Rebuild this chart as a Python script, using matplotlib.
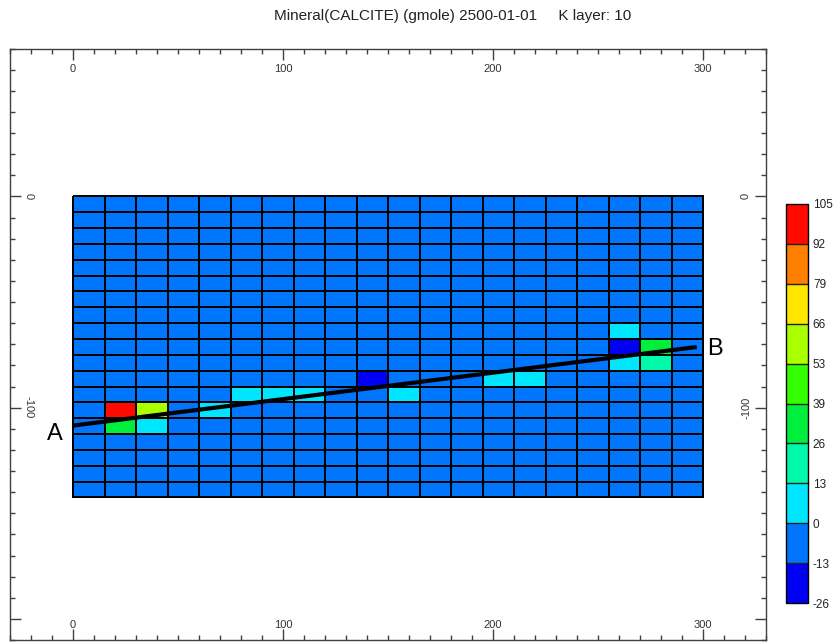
import matplotlib
matplotlib.use("Agg")
import matplotlib.pyplot as plt
import matplotlib.transforms as mtrans
import numpy as np
from matplotlib.colors import ListedColormap, BoundaryNorm
from matplotlib.cm import ScalarMappable
from matplotlib.ticker import MultipleLocator

plt.rcParams["font.family"] = ["Liberation Sans", "DejaVu Sans"]

# ---- model grid (K layer 10) ----
nx, ny = 20, 19          # columns, rows
dx, dy = 15.0, 7.5       # cell size
background = -6.0        # calcite change in most cells

# cells that differ from the background: column, row (from top), value
cell_cols = [1, 1, 2, 2, 4, 5, 6, 7, 9, 10, 13, 14, 17, 17, 17, 18, 18]
cell_rows = [13, 14, 13, 14, 13, 12, 12, 12, 11, 12, 11, 11, 8, 9, 10, 9, 10]
cell_vals = [100, 33, 60, 6, 6, 6, 6, 6, -20, 6, 6, 6, 6, -20, 6, 33, 20]

# colour classes
levels = [-26, -13, 0, 13, 26, 39, 53, 66, 79, 92, 105]
level_labels = ["-26", "-13", "0", "13", "26", "39", "53", "66", "79", "92", "105"]
class_colors = ["#0000F2", "#0076FF", "#00E6FF", "#00FAAA", "#00EE3C",
                "#33FF00", "#AAFF00", "#FFE600", "#FF7F00", "#FF0A00"]

# cross-section A-B
sec_x = [0.0, 297.0]
sec_y = [-108.5, -71.3]
sec_names = ["A", "B"]

x_major = [0, 100, 200, 300]
y_major = [0, -100]

title = "Mineral(CALCITE) (gmole) 2500-01-01     K layer: 10"

# ---- figure ----
W, H = 833, 644
fig = plt.figure(figsize=(W / 100, H / 100), dpi=100)
ax = fig.add_axes([10 / W, 1 - 640 / H, 756 / W, 591.5 / H])
ax.set_xlim(-30, 330)
ax.set_ylim(-210, 70)

cmap = ListedColormap(class_colors)
norm = BoundaryNorm(levels, cmap.N)

xe = np.arange(nx + 1) * dx
ye = -np.arange(ny + 1) * dy
grid = np.full((ny, nx), background)
for c, r, v in zip(cell_cols, cell_rows, cell_vals):
    grid[r, c] = v
ax.pcolormesh(xe, ye, grid, cmap=cmap, norm=norm,
              edgecolors="black", linewidth=1.1)

ax.plot(sec_x, sec_y, color="black", linewidth=3, solid_capstyle="butt")
ax.annotate(sec_names[0], (sec_x[0], sec_y[0]), xytext=(-10, -8),
            textcoords="offset pixels", ha="right", va="center", fontsize=17)
ax.annotate(sec_names[1], (sec_x[1], sec_y[1]), xytext=(10, -2),
            textcoords="offset pixels", ha="left", va="center", fontsize=17)

# frame and inward ticks
frame_col = "#404040"
for s in ax.spines.values():
    s.set_color(frame_col)
    s.set_linewidth(1.0)
ax.xaxis.set_major_locator(MultipleLocator(100))
ax.xaxis.set_minor_locator(MultipleLocator(10))
ax.yaxis.set_major_locator(MultipleLocator(100))
ax.yaxis.set_minor_locator(MultipleLocator(10))
ax.tick_params(which="both", direction="in", top=True, right=True,
               bottom=True, left=True, labelbottom=False, labelleft=False,
               color=frame_col, width=1.0)
ax.tick_params(which="major", length=8)
ax.tick_params(which="minor", length=3.6)

lab_kw = dict(fontsize=8, color="#333333", ha="center", va="center")
tx = mtrans.blended_transform_factory(ax.transData, ax.transAxes)
ty = mtrans.blended_transform_factory(ax.transAxes, ax.transData)
for v in x_major:
    ax.text(v, 1, str(v), transform=mtrans.offset_copy(tx, fig=fig, y=-21, units="dots"), **lab_kw)
    ax.text(v, 0, str(v), transform=mtrans.offset_copy(tx, fig=fig, y=15, units="dots"), **lab_kw)
for v in y_major:
    ax.text(0, v, str(v), rotation=270,
            transform=mtrans.offset_copy(ty, fig=fig, x=19, units="dots"), **lab_kw)
    ax.text(1, v, str(v), rotation=90,
            transform=mtrans.offset_copy(ty, fig=fig, x=-20, units="dots"), **lab_kw)

# colour bar
cax = fig.add_axes([786 / W, 1 - 603 / H, 22 / W, 399 / H])
cb = fig.colorbar(ScalarMappable(norm=norm, cmap=cmap), cax=cax,
                  ticks=levels, drawedges=True)
cb.ax.set_yticklabels(level_labels)
cb.ax.tick_params(length=0, pad=3.5, labelsize=8.5, colors="#222222")
cb.outline.set_edgecolor("black")
cb.outline.set_linewidth(1.0)
cb.dividers.set_color("#202020")
cb.dividers.set_linewidth(1.0)

fig.text(453 / W, 1 - 16 / H, title, ha="center", va="center",
         fontsize=11, color="#222222")

fig.savefig("out.png", dpi=100)
